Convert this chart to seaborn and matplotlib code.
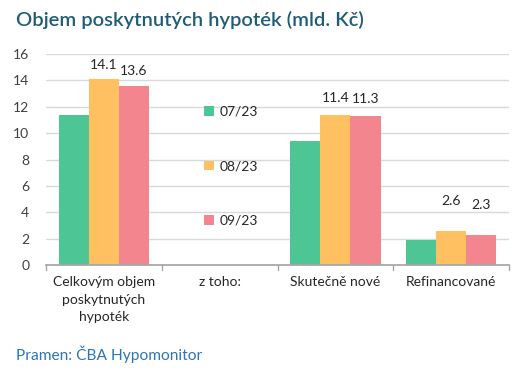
import numpy as np
import pandas as pd
import matplotlib
matplotlib.use("Agg")
import matplotlib.pyplot as plt
import seaborn as sns

categories = ["Celkovým objem\nposkytnutých\nhypoték", "z toho:", "Skutečně nové", "Refinancované"]
series = ["07/23", "08/23", "09/23"]
v_0723 = [11.4, np.nan, 9.4, 1.9]
v_0823 = [14.1, np.nan, 11.4, 2.6]
v_0923 = [13.6, np.nan, 11.3, 2.3]
labelled = ["08/23", "09/23"]
colors = ["#4DC595", "#FFC061", "#F3858F"]

rows = []
for s, vals in zip(series, [v_0723, v_0823, v_0923]):
    for c, v in zip(categories, vals):
        rows.append({"cat": c, "series": s, "value": v})
df = pd.DataFrame(rows)

sns.set_theme(style="white")
plt.rcParams["font.family"] = ["Lato", "DejaVu Sans"]

fig = plt.figure(figsize=(5.21, 3.71), dpi=100)
ax = fig.add_axes([0.0883, 0.2857, 0.8887, 0.5687])

sns.barplot(data=df, x="cat", y="value", hue="series", order=categories,
            hue_order=series, palette=colors, width=0.78, ax=ax,
            errorbar=None, saturation=1, linewidth=0)

ax.set_ylim(0, 16)
ax.set_xlim(-0.5, len(categories) - 0.5)
ax.set_yticks(range(0, 17, 2))
ax.yaxis.grid(True, color="#D9D9D9", linewidth=1)
ax.set_axisbelow(True)
for sp in ["top", "right", "left"]:
    ax.spines[sp].set_visible(False)
ax.spines["bottom"].set_color("#A6A6A6")
ax.set_xlabel("")
ax.set_ylabel("")
ax.tick_params(axis="y", length=0, labelsize=10, colors="#404040", pad=12)
ax.set_xticks(range(len(categories)))
ax.set_xticklabels(categories, fontsize=10, color="#262626", linespacing=1.55)
ax.tick_params(axis="x", length=0, pad=8)
# boundary tick marks
for b in np.arange(-0.5, len(categories), 1.0):
    ax.plot([b, b], [0, -0.35], color="#A6A6A6", lw=1, clip_on=False,
            transform=ax.transData)

# value labels for selected series (label offset per category, in points)
label_offsets = [6, 0, 8, 17]
for cont, s in zip(ax.containers, series):
    if s in labelled:
        for bar in cont:
            h = bar.get_height()
            if np.isnan(h) or h == 0:
                continue
            xc = bar.get_x() + bar.get_width() / 2
            ci = int(round(xc))
            ax.annotate(f"{h:.1f}", (xc, h),
                        xytext=(0, label_offsets[ci]), textcoords="offset points",
                        ha="center", va="bottom", fontsize=10, color="#262626")

leg = ax.legend(loc="upper left", bbox_to_anchor=(0.33, 0.78), frameon=False,
                fontsize=10, labelspacing=3.05, handlelength=0.7, handleheight=0.7,
                handletextpad=0.4, borderaxespad=0)
for t in leg.get_texts():
    t.set_color("#262626")

fig.text(16 / 521, 1 - 26 / 371, "Objem poskytnutých hypoték (mld. Kč)", fontsize=14.5,
         color="#1F5C77", fontweight="semibold", ha="left", va="baseline")
fig.text(16 / 521, 1 - 360 / 371, "Pramen: ČBA Hypomonitor", fontsize=11.2,
         color="#2E75B6", ha="left", va="baseline")

fig.savefig("out.png", dpi=100)
